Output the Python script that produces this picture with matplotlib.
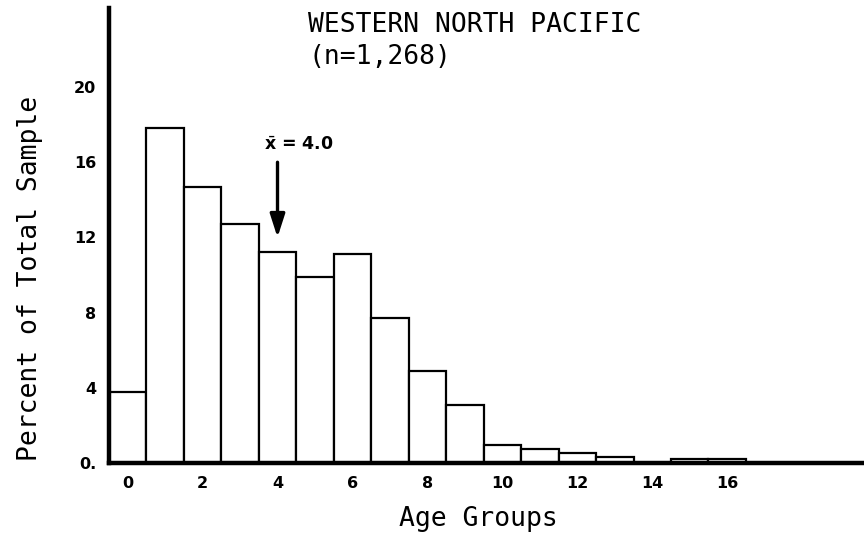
import numpy as np
import matplotlib
matplotlib.use("Agg")
import matplotlib.pyplot as plt

# percent of sample in each age group (0..16)
age_groups = np.arange(17)
percent = [3.8, 17.8, 14.7, 12.7, 11.2, 9.9, 11.1, 7.7, 4.9, 3.1,
           0.95, 0.75, 0.55, 0.3, 0.0, 0.2, 0.2]
mean_age = 4.0
n_total = "1,268"
region = "WESTERN NORTH PACIFIC"

x_ticks = [0, 2, 4, 6, 8, 10, 12, 14, 16]
y_ticks = [0, 4, 8, 12, 16, 20]
y_ticklabels = ["0.", "4", "8", "12", "16", "20"]

fig = plt.figure(figsize=(8.64, 5.39), dpi=100)
ax = fig.add_axes([0.126, 0.141, 0.874, 0.844])

ax.bar(age_groups, percent, width=1.0, facecolor="white",
       edgecolor="black", linewidth=1.6, zorder=2)

ax.set_xlim(-0.5, 19.65)
ax.set_ylim(0, 24.2)

for side in ["top", "right"]:
    ax.spines[side].set_visible(False)
for side in ["left", "bottom"]:
    ax.spines[side].set_linewidth(3.2)
    ax.spines[side].set_zorder(3)

ax.set_xticks(x_ticks)
ax.set_xticklabels([str(t) for t in x_ticks], fontsize=11.5, fontweight="bold")
ax.set_yticks(y_ticks)
ax.set_yticklabels(y_ticklabels, fontsize=11.5, fontweight="bold")
ax.tick_params(axis="both", length=0)
ax.tick_params(axis="x", pad=9)
ax.tick_params(axis="y", pad=9)

mono = "DejaVu Sans Mono"
ax.set_xlabel("Age Groups", family=mono, fontsize=19)
ax.set_ylabel("Percent of Total Sample", family=mono, fontsize=19)
ax.xaxis.set_label_coords(0.489, -0.095)
ax.yaxis.set_label_coords(-0.087, 0.405)

fig.text(0.357, 0.978, region + "\n(n=" + n_total + ")", family=mono,
         fontsize=19, ha="left", va="top", linespacing=1.3)

# arrow marking the mean age
ax.annotate("", xy=(mean_age, 12.0), xytext=(mean_age, 16.0),
            arrowprops=dict(arrowstyle="-|>,head_length=1.4,head_width=0.45",
                            color="black", lw=2.4, shrinkA=0, shrinkB=0))
ax.text(mean_age - 0.35, 16.9, r"$\bar{\mathbf{x}}$ = 4.0", fontsize=12.5,
        fontweight="bold", ha="left", va="center")

fig.savefig("out.png", dpi=100)
